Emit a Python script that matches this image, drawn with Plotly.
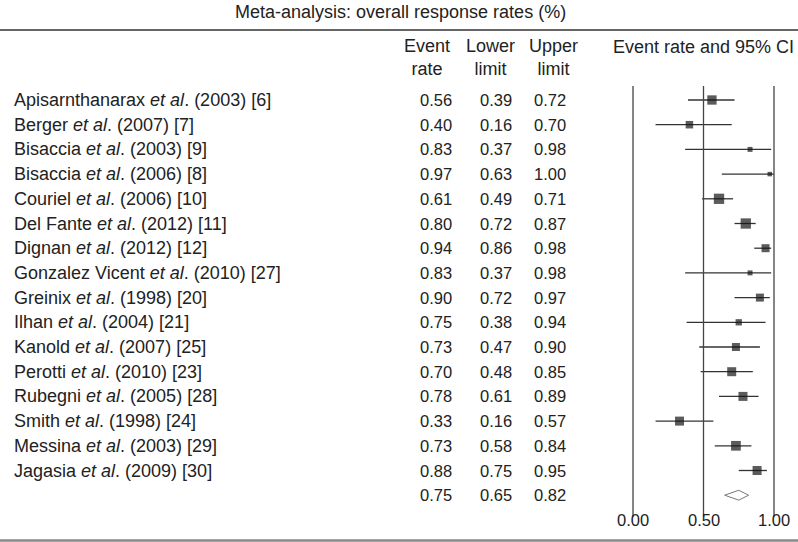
import plotly.graph_objects as go

studies = [
    "Apisarnthanarax <i>et al</i>. (2003) [6]",
    "Berger <i>et al</i>. (2007) [7]",
    "Bisaccia <i>et al</i>. (2003) [9]",
    "Bisaccia <i>et al</i>. (2006) [8]",
    "Couriel <i>et al</i>. (2006) [10]",
    "Del Fante <i>et al</i>. (2012) [11]",
    "Dignan <i>et al</i>. (2012) [12]",
    "Gonzalez Vicent <i>et al</i>. (2010) [27]",
    "Greinix <i>et al</i>. (1998) [20]",
    "Ilhan <i>et al</i>. (2004) [21]",
    "Kanold <i>et al</i>. (2007) [25]",
    "Perotti <i>et al</i>. (2010) [23]",
    "Rubegni <i>et al</i>. (2005) [28]",
    "Smith <i>et al</i>. (1998) [24]",
    "Messina <i>et al</i>. (2003) [29]",
    "Jagasia <i>et al</i>. (2009) [30]",
]
event_rate = [0.56, 0.40, 0.83, 0.97, 0.61, 0.80, 0.94, 0.83, 0.90, 0.75, 0.73, 0.70, 0.78, 0.33, 0.73, 0.88]
lower_limit = [0.39, 0.16, 0.37, 0.63, 0.49, 0.72, 0.86, 0.37, 0.72, 0.38, 0.47, 0.48, 0.61, 0.16, 0.58, 0.75]
upper_limit = [0.72, 0.70, 0.98, 1.00, 0.71, 0.87, 0.98, 0.98, 0.97, 0.94, 0.90, 0.85, 0.89, 0.57, 0.84, 0.95]
weights = [9.3, 7.5, 5, 4.5, 10.3, 10.3, 8, 5, 8, 6.3, 8, 9, 9, 9, 9.7, 9]
summary = [0.75, 0.65, 0.82]
tick_vals = [0.0, 0.5, 1.0]
tick_labels = ["0.00", "0.50", "1.00"]

W, H = 798, 542
FONT = "Liberation Sans, Arial, sans-serif"
TXT = "#222222"
ROW0, ROWH = 100.0, 24.7


def py(pix):
    return 1 - pix / H


def px(pix):
    return pix / W


n = len(studies)
rows = [-i for i in range(n)]
sum_row = -n

fig = go.Figure()

fig.add_trace(go.Scatter(
    x=event_rate, y=rows, mode="markers",
    marker=dict(symbol="square", size=weights, color="#151515", line=dict(width=0)),
    error_x=dict(type="data", symmetric=False,
                 array=[u - e for u, e in zip(upper_limit, event_rate)],
                 arrayminus=[e - l for e, l in zip(event_rate, lower_limit)],
                 color="#333333", thickness=1.3, width=0),
    hoverinfo="skip", showlegend=False,
))

dh = 0.2
fig.add_trace(go.Scatter(
    x=[summary[1], summary[0], summary[2], summary[0], summary[1]],
    y=[sum_row, sum_row + dh, sum_row, sum_row - dh, sum_row],
    mode="lines", line=dict(color="#777777", width=1),
    hoverinfo="skip", showlegend=False,
))

y_top = (ROW0 - 86) / ROWH
y_bot = -(517 - ROW0) / ROWH
for tv in tick_vals:
    fig.add_shape(type="line", xref="x", yref="y", x0=tv, x1=tv, y0=y_top, y1=y_bot,
                  line=dict(color="#444444", width=1.3))

fig.add_shape(type="line", xref="paper", yref="paper", x0=0, x1=1, y0=py(30), y1=py(30),
              line=dict(color="#666666", width=2))
fig.add_shape(type="line", xref="paper", yref="paper", x0=0, x1=1, y0=py(540.5), y1=py(540.5),
              line=dict(color="#888888", width=2.5))

ann = []
ft = dict(family=FONT, size=18, color=TXT)
fn = dict(family=FONT, size=16.5, color=TXT)


def add(text, x, y, xref="paper", yref="paper", xanchor="center", font=ft):
    ann.append(dict(text=text, x=x, y=y, xref=xref, yref=yref, xanchor=xanchor,
                    yanchor="middle", showarrow=False, font=font, align="center"))


add("Meta-analysis: overall response rates (%)", px(400), py(12))
for t, cx in [("Event<br>rate", 427), ("Lower<br>limit", 490), ("Upper<br>limit", 553)]:
    add(t, px(cx), py(57))
add("Event rate and 95% CI", px(703), py(47))

for i in range(n):
    add(studies[i], px(12), rows[i], yref="y", xanchor="left")
    for val, cx in [(event_rate[i], 436), (lower_limit[i], 496), (upper_limit[i], 549.5)]:
        add(f"{val:.2f}", px(cx), rows[i], yref="y", font=fn)
for val, cx in zip(summary, [436, 496, 549.5]):
    add(f"{val:.2f}", px(cx), sum_row, yref="y", font=fn)
for tv, tl in zip(tick_vals, tick_labels):
    add(tl, tv, sum_row - 1, xref="x", yref="y", font=fn)

x0, x1 = 633.0, 774.0
upx = x1 - x0
dom0, dom1 = 600.0, 798.0
r0 = -(x0 - dom0) / upx
r1 = (dom1 - x0) / upx

fig.update_layout(
    width=W, height=H, margin=dict(l=0, r=0, t=0, b=0),
    paper_bgcolor="white", plot_bgcolor="white",
    xaxis=dict(domain=[dom0 / W, dom1 / W], range=[r0, r1], visible=False, fixedrange=True),
    yaxis=dict(domain=[0, 1], range=[-(H - ROW0) / ROWH, ROW0 / ROWH], visible=False, fixedrange=True),
    annotations=ann, showlegend=False,
)

fig.write_html("out.html", config={"displayModeBar": False},
               post_script="document.body.style.margin='0';document.body.style.overflow='hidden';")
